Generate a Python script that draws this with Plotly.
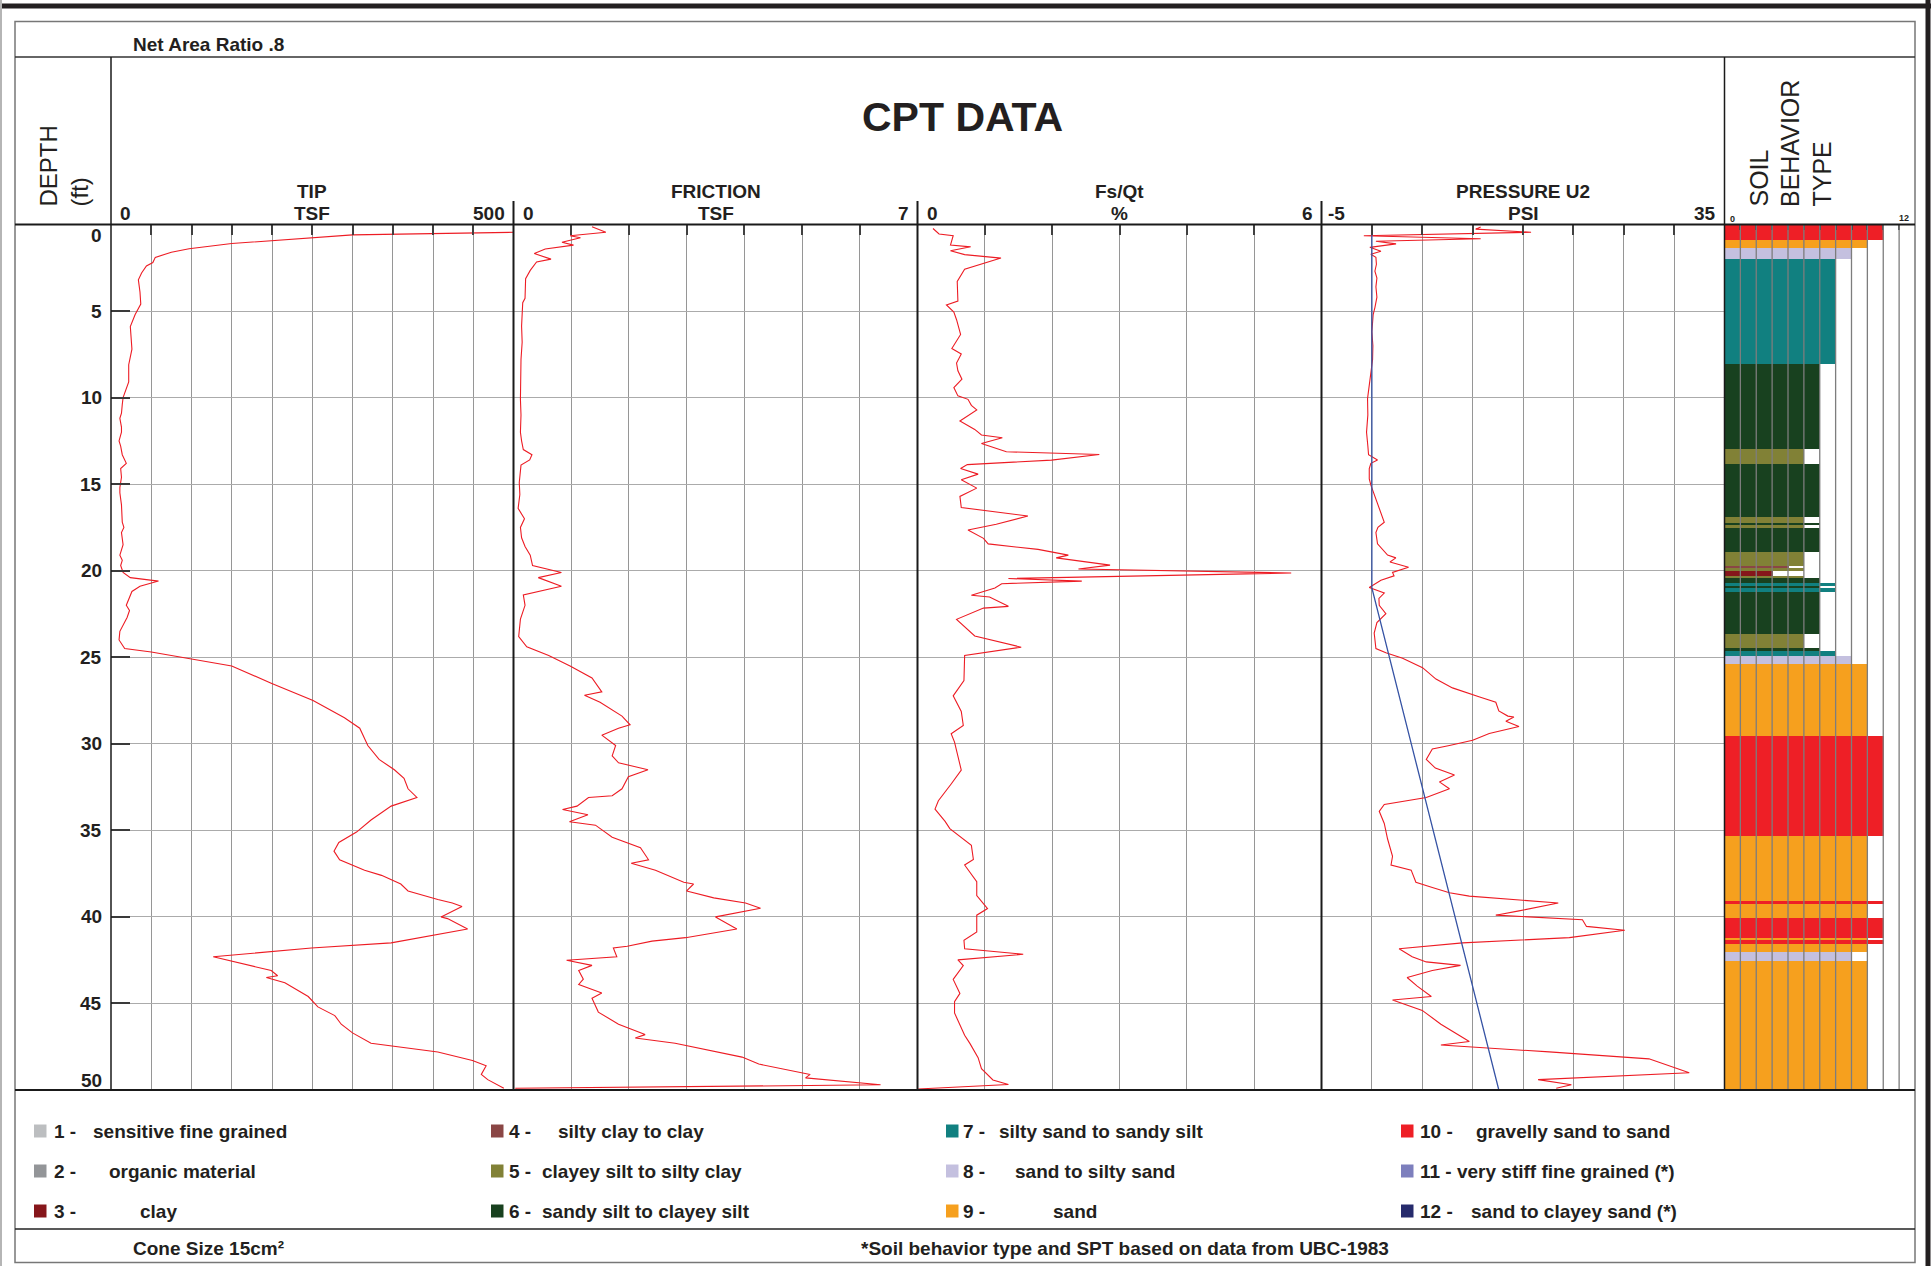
import plotly.graph_objects as go

# ---------------- data ----------------
# (depth ft, value) pairs for each CPT channel
tip_log = [
    (0.45, 500), (0.6, 300), (1.1, 150), (1.4, 97), (1.6, 75), (1.9, 55), (2.2, 52), (2.4, 44),
    (2.8, 38), (3.2, 34), (3.9, 36), (4.6, 37), (5.2, 30), (5.9, 24), (7.2, 26), (8.1, 22),
    (9.1, 22), (9.7, 17), (10.0, 15), (10.4, 14), (10.9, 13), (11.2, 11), (11.7, 13), (12.0, 13),
    (12.5, 10), (12.8, 12), (13.3, 14), (13.8, 19), (14.1, 12), (14.6, 13), (15.2, 11), (15.5, 11),
    (16.2, 13), (17.2, 14), (17.5, 16), (17.8, 13), (18.5, 15), (19.1, 11), (19.4, 14), (19.7, 12),
    (20.1, 15), (20.4, 24), (20.6, 59), (20.9, 36), (21.2, 26), (22.0, 19), (22.3, 23), (22.7, 20),
    (23.5, 11), (24.0, 10), (24.5, 17), (24.7, 50), (25.1, 100), (25.5, 150), (26.5, 199), (27.5, 251),
    (28.5, 290), (29.1, 309), (30.1, 319), (30.9, 333), (31.5, 352), (32.0, 364), (32.6, 369), (33.1, 380),
    (33.6, 348), (34.4, 323), (35.1, 305), (35.7, 283), (36.2, 277), (36.7, 284), (37.3, 315), (37.6, 336),
    (38.1, 360), (38.5, 369), (39.0, 406), (39.2, 424), (39.4, 436), (40.0, 410), (40.1, 418), (40.7, 443),
    (41.5, 348), (41.8, 249), (42.3, 127), (43.1, 199), (43.4, 207), (43.5, 193), (43.8, 216), (44.6, 245),
    (45.2, 257), (45.7, 278), (46.2, 286), (46.7, 300), (47.3, 323), (47.8, 406), (48.3, 449), (48.6, 466),
    (49.1, 460), (49.4, 468), (49.9, 488),
]

friction_log = [
    (0.13, 1.36), (0.45, 1.60), (0.65, 0.98), (0.77, 1.16), (1.03, 0.84), (1.19, 1.04), (1.42, 0.55),
    (1.68, 0.36), (2.0, 0.65), (2.16, 0.40), (2.65, 0.29), (3.13, 0.21), (4.26, 0.20), (4.52, 0.16),
    (5.87, 0.14), (6.8, 0.15), (7.8, 0.13), (9.0, 0.12), (10.1, 0.12), (11.0, 0.13), (12.0, 0.12),
    (12.5, 0.14), (13.0, 0.17), (13.3, 0.32), (13.6, 0.28), (13.9, 0.13), (14.9, 0.10), (15.6, 0.11),
    (16.4, 0.08), (17.0, 0.19), (17.5, 0.12), (18.1, 0.14), (18.6, 0.20), (19.1, 0.29), (19.7, 0.33),
    (20.1, 0.83), (20.4, 0.43), (20.9, 0.83), (21.4, 0.17), (22.0, 0.20), (22.8, 0.12), (23.8, 0.09),
    (24.4, 0.23), (24.9, 0.61), (25.5, 0.98), (26.2, 1.36), (27.0, 1.53), (27.2, 1.23), (27.6, 1.50),
    (28.4, 1.88), (28.9, 2.02), (29.1, 1.82), (29.5, 1.53), (30.1, 1.77), (30.7, 1.71), (31.1, 1.82),
    (31.5, 2.33), (31.9, 1.99), (32.6, 1.88), (33.0, 1.71), (33.1, 1.30), (33.6, 1.10), (33.8, 0.85),
    (34.1, 1.29), (34.5, 0.97), (34.7, 1.42), (35.4, 1.71), (36.0, 2.20), (36.7, 2.34), (36.9, 2.04),
    (37.3, 2.46), (38.0, 2.95), (38.1, 3.12), (38.5, 3.00), (38.9, 3.47), (39.2, 4.02), (39.5, 4.28),
    (40.0, 3.50), (40.7, 3.87), (41.2, 2.98), (41.4, 2.40), (41.7, 1.97), (41.8, 1.73), (42.3, 1.79),
    (42.5, 0.92), (42.8, 1.36), (43.1, 1.13), (43.6, 1.21), (43.9, 1.13), (44.4, 1.53), (44.7, 1.36),
    (45.5, 1.47), (46.2, 1.82), (46.8, 2.28), (47.0, 2.11), (47.3, 2.80), (48.1, 3.96), (48.5, 4.25),
    (49.0, 5.00), (49.1, 5.14), (49.3, 5.06), (49.7, 6.36), (49.9, 0.03),
]

ratio_log = [
    (0.23, 0.23), (0.55, 0.32), (0.65, 0.53), (1.19, 0.49), (1.29, 0.79), (1.52, 0.49), (1.74, 0.70),
    (1.94, 1.24), (2.58, 0.70), (3.29, 0.59), (4.42, 0.60), (4.65, 0.43), (5.06, 0.54), (5.5, 0.58),
    (6.35, 0.64), (7.16, 0.51), (7.48, 0.65), (8.0, 0.58), (8.45, 0.60), (8.94, 0.66), (9.42, 0.54),
    (9.9, 0.60), (10.1, 0.75), (10.45, 0.80), (10.71, 0.88), (11.35, 0.63), (11.84, 0.85), (12.16, 0.95),
    (12.32, 1.26), (12.65, 0.95), (13.13, 1.32), (13.29, 2.70), (13.61, 1.99), (13.87, 0.74), (14.1, 0.64),
    (14.42, 0.90), (14.74, 0.65), (15.23, 0.88), (15.71, 0.63), (16.35, 0.65), (16.84, 1.64), (17.32, 1.17),
    (17.65, 0.75), (18.13, 0.98), (18.45, 1.05), (18.77, 1.79), (19.1, 2.24), (19.26, 2.06), (19.68, 2.86),
    (19.9, 2.39), (20.13, 5.55), (20.45, 1.35), (20.6, 2.44), (20.75, 1.25), (21.0, 1.15), (21.42, 0.80),
    (21.52, 1.07), (22.06, 1.35), (22.16, 0.98), (22.81, 0.58), (23.77, 0.85), (24.42, 1.54), (24.9, 0.70),
    (26.35, 0.69), (27.23, 0.53), (28.13, 0.65), (28.94, 0.68), (29.42, 0.50), (29.9, 0.55), (30.7, 0.60),
    (31.52, 0.65), (32.32, 0.50), (33.29, 0.31), (33.77, 0.26), (34.48, 0.41), (34.9, 0.48), (35.87, 0.80),
    (36.68, 0.83), (37.0, 0.70), (37.97, 0.88), (38.77, 0.88), (39.52, 1.04), (39.9, 0.88), (40.87, 0.88),
    (41.35, 0.69), (41.84, 0.70), (42.16, 1.57), (42.48, 0.60), (42.81, 0.68), (43.61, 0.53), (44.42, 0.63),
    (44.9, 0.55), (45.55, 0.55), (46.84, 0.70), (47.32, 0.78), (48.13, 0.90), (48.77, 0.95), (49.42, 1.12),
    (49.68, 1.35), (49.94, 0.01),
]

pressure_log = [
    (0.15, 10.8), (0.27, 10.3), (0.45, 15.8), (0.65, -0.8), (0.82, 10.8), (0.97, 0.4), (1.12, 2.4),
    (1.32, -0.2), (1.55, 0.9), (1.72, -0.1), (1.9, 0.4), (2.3, 0.45), (2.7, 0.3), (3.1, 0.5), (3.6, 0.4),
    (4.2, 0.5), (4.8, 0.3), (5.2, 0.13), (6.2, 0.0), (7.0, 0.1), (7.8, 0.07), (8.5, -0.1), (9.1, -0.2),
    (10.06, -0.43), (11.0, -0.4), (12.0, -0.53), (12.8, -0.4), (13.3, -0.33), (13.6, 0.56), (13.8, -0.1),
    (14.1, -0.26), (14.7, -0.26), (15.06, -0.1), (15.87, 0.4), (16.3, 0.6), (17.2, 1.23), (17.5, 0.6),
    (17.8, 0.4), (18.45, 0.56), (19.1, 1.56), (19.26, 2.38), (19.5, 1.8), (19.8, 3.64), (20.1, 2.05),
    (20.3, 2.2), (20.55, 0.9), (20.97, -0.26), (21.29, 1.23), (21.6, 0.7), (22.0, 0.73), (22.48, 1.39),
    (23.0, 0.5), (23.6, 0.23), (24.5, 0.4), (24.74, 1.39), (25.06, 3.05), (25.6, 5.03), (26.26, 6.36),
    (26.77, 8.0), (27.1, 9.83), (27.3, 10.7), (27.6, 12.3), (28.1, 12.6), (28.4, 13.5), (28.45, 14.1),
    (28.7, 13.3), (29.0, 14.6), (29.4, 11.65), (29.8, 10.0), (30.1, 7.7), (30.3, 6.0), (30.9, 5.4),
    (31.4, 6.3), (31.8, 8.2), (32.2, 6.7), (32.6, 7.7), (33.1, 5.4), (33.5, 1.23), (33.9, 0.73),
    (34.6, 1.23), (35.5, 1.56), (36.5, 2.05), (37.0, 1.9), (37.3, 3.9), (38.0, 4.37), (38.3, 6.0),
    (38.6, 7.7), (38.8, 9.67), (39.2, 18.5), (39.65, 14.6), (39.9, 12.3), (40.16, 20.9), (40.55, 21.3),
    (40.77, 25.1), (41.2, 19.6), (41.5, 9.0), (41.84, 2.7), (42.3, 4.0), (42.6, 5.4), (42.8, 8.8),
    (43.1, 6.0), (43.5, 3.5), (44.0, 4.5), (44.6, 5.9), (44.8, 2.05), (45.4, 5.0), (46.2, 6.85),
    (47.2, 9.67), (47.4, 6.85), (47.8, 17.6), (48.2, 27.5), (49.0, 31.5), (49.4, 16.5), (49.7, 19.8),
    (49.9, 18.3),
]

# hydrostatic pore pressure reference (water table near 21 ft)
hydro_depth = [0.0, 21.0, 50.0]
hydro_psi = [0.0, 0.0, 12.6]

# soil behavior type layers: (top ft, bottom ft, zone)
sbt_layers = [
    (0.0, 0.85, 10), (0.85, 1.3, 9), (1.3, 1.95, 8), (1.95, 8.04, 7), (8.04, 12.95, 6),
    (12.95, 13.78, 5), (13.78, 16.86, 6), (16.86, 17.19, 5), (17.19, 17.34, 6), (17.34, 17.53, 5),
    (17.53, 18.89, 6), (18.89, 19.70, 5), (19.70, 19.83, 4), (19.83, 19.98, 5), (19.98, 20.27, 3),
    (20.27, 20.41, 5), (20.41, 20.66, 6), (20.66, 20.85, 7), (20.85, 20.98, 6), (20.98, 21.18, 7),
    (21.18, 23.64, 6), (23.64, 24.42, 5), (24.42, 24.61, 6), (24.61, 24.90, 7), (24.90, 25.38, 8),
    (25.38, 29.52, 9), (29.52, 35.30, 10), (35.30, 39.06, 9), (39.06, 39.25, 10), (39.25, 40.02, 9),
    (40.02, 41.21, 10), (41.21, 41.33, 9), (41.33, 41.53, 10), (41.53, 42.00, 9), (42.00, 42.49, 8),
    (42.49, 50.0, 9),
]

zone_codes = list(range(1, 13))
zone_names = [
    "sensitive fine grained", "organic material", "clay",
    "silty clay to clay", "clayey silt to silty clay", "sandy silt to clayey silt",
    "silty sand to sandy silt", "sand to silty sand", "sand",
    "gravelly sand to sand", "very stiff fine grained (*)", "sand to clayey sand (*)",
]
zone_colors = [
    "#BCBEC0", "#939598", "#86161B", "#8A4645", "#818136", "#18411F",
    "#118080", "#C4C0DF", "#F6A01E", "#EE1F26", "#7D7FBD", "#262B6C",
]

depth_ticks = list(range(0, 55, 5))

# ---------------- page geometry (pixels) ----------------
W, H = 1931, 1266
FONT = "Liberation Sans, Arial, Helvetica, sans-serif"
INK = "#231F20"
RED = "#ED1C24"

PLOT_TOP, PLOT_BOT = 224.5, 1090.0
EDGES = [111.0, 513.5, 917.5, 1321.5, 1724.5, 1915.0]
FRAME_L, FRAME_R, FRAME_T, FRAME_B = 15.0, 1915.0, 21.5, 1262.5


def fx(p):
    return p / W


def fy(p):
    return 1.0 - p / H


ydom = [fy(PLOT_BOT), fy(PLOT_TOP)]

panels = [
    # title line 1, title line 2, x range, grid step, low label, high label
    ("TIP", "TSF", [0, 500], 50, "0", "500"),
    ("FRICTION", "TSF", [0, 7], 1, "0", "7"),
    ("Fs/Qt", "%", [0, 6], 1, "0", "6"),
    ("PRESSURE U2", "PSI", [-5, 35], 5, "-5", "35"),
]

fig = go.Figure()

logs = [tip_log, friction_log, ratio_log, pressure_log]
for i, log in enumerate(logs):
    n = "" if i == 0 else str(i + 1)
    fig.add_trace(go.Scatter(
        x=[v for _, v in log], y=[d for d, _ in log], mode="lines",
        line=dict(color=RED, width=1.1), xaxis="x" + n, yaxis="y" + n,
        hoverinfo="skip", showlegend=False,
    ))

fig.add_trace(go.Scatter(
    x=hydro_psi, y=hydro_depth, mode="lines", line=dict(color="#3653A4", width=1.3),
    xaxis="x4", yaxis="y4", hoverinfo="skip", showlegend=False,
))

# soil behavior type column as horizontal bars
fig.add_trace(go.Bar(
    orientation="h",
    y=[(t + b) / 2 for t, b, _ in sbt_layers],
    width=[b - t for t, b, _ in sbt_layers],
    x=[z for _, _, z in sbt_layers],
    base=0,
    marker=dict(color=[zone_colors[z - 1] for _, _, z in sbt_layers], line=dict(width=0)),
    xaxis="x5", yaxis="y5", hoverinfo="skip", showlegend=False,
))

layout = dict(
    width=W, height=H, margin=dict(l=0, r=0, t=0, b=0),
    paper_bgcolor="white", plot_bgcolor="white", showlegend=False, bargap=0,
)

xbase = dict(showticklabels=False, zeroline=False, side="top", ticks="inside", ticklen=10,
             tickwidth=1.5, tickcolor="#404040", showgrid=True, gridcolor="#969696",
             gridwidth=1.2, showline=False, fixedrange=True)
ybase = dict(range=[50, 0], autorange=False, showticklabels=False, zeroline=False, dtick=5,
             tick0=0, showgrid=True, gridcolor="#ababab", gridwidth=1.4, showline=False,
             fixedrange=True, domain=ydom)

for i, (t1, t2, rng, step, lo, hi) in enumerate(panels):
    n = "" if i == 0 else str(i + 1)
    layout["xaxis" + n] = dict(xbase, domain=[fx(EDGES[i]), fx(EDGES[i + 1])], range=rng,
                               dtick=step, tick0=rng[0], anchor="y" + n)
    ya = dict(ybase, anchor="x" + n)
    if i == 0:
        ya.update(ticks="inside", ticklen=19, tickwidth=1.5, tickcolor="#3a3a3a")
    layout["yaxis" + n] = ya

layout["xaxis5"] = dict(xbase, domain=[fx(EDGES[4]), fx(EDGES[5])], range=[0, 12], dtick=1,
                        tick0=0, anchor="y5", showgrid=False, ticklen=5)
layout["yaxis5"] = dict(ybase, anchor="x5", showgrid=False)

shapes = []


def hline(y, x0=FRAME_L, x1=FRAME_R, color="#1a1a1a", width=2):
    shapes.append(dict(type="line", xref="paper", yref="paper", x0=fx(x0), x1=fx(x1),
                       y0=fy(y), y1=fy(y), line=dict(color=color, width=width)))


def vline(x, y0, y1, color="#1a1a1a", width=2):
    shapes.append(dict(type="line", xref="paper", yref="paper", x0=fx(x), x1=fx(x),
                       y0=fy(y0), y1=fy(y1), line=dict(color=color, width=width)))


# SBT grid drawn over the bars
for k in range(1, 12):
    shapes.append(dict(type="line", xref="x5", yref="paper", x0=k, x1=k,
                       y0=ydom[0], y1=ydom[1], line=dict(color="#7d7d7d", width=1.3),
                       layer="above"))

# page frame
hline(6, 0, W, color="#231F20", width=5)
vline(1928, 0, H, color="#231F20", width=5)
vline(1, 0, H, color="#b5b5b5", width=2)
shapes.append(dict(type="rect", xref="paper", yref="paper", x0=fx(FRAME_L), x1=fx(FRAME_R),
                   y0=fy(FRAME_B), y1=fy(FRAME_T), line=dict(color="#777777", width=1.5)))
hline(57, color="#333333", width=1.5)
hline(PLOT_TOP, width=2)
hline(PLOT_BOT, width=2)
hline(1229, color="#222222", width=1.5)
vline(EDGES[0], 57, PLOT_BOT, width=1.5)
vline(EDGES[4], 57, PLOT_BOT, width=1.5)
for x in EDGES[1:4]:
    vline(x, 201, PLOT_BOT, width=2)

ann = []


def label(x, y, s, size=19, xa="left", ya="middle", bold=True, angle=0):
    ann.append(dict(xref="paper", yref="paper", x=fx(x), y=fy(y),
                    text=("<b>%s</b>" % s) if bold else s, showarrow=False,
                    xanchor=xa, yanchor=ya, textangle=angle,
                    font=dict(family=FONT, size=size, color=INK)))


label(131, 44.5, "Net Area Ratio .8")
label(962, 117, "CPT DATA", size=41, xa="center")
label(48, 209, "DEPTH", size=24, xa="center", ya="bottom", bold=False, angle=-90)
label(79, 209, "(ft)", size=24, xa="center", ya="bottom", bold=False, angle=-90)

for i, (t1, t2, rng, step, lo, hi) in enumerate(panels):
    cx = (EDGES[i] + EDGES[i + 1]) / 2
    label(cx, 191.5, t1, xa="center")
    label(cx, 213, t2, xa="center")
    label(EDGES[i] + (4 if lo.startswith("-") else 7), 213, lo)
    label(EDGES[i + 1] - 6.5, 213, hi, xa="right")

for j, w in enumerate(["SOIL", "BEHAVIOR", "TYPE"]):
    label(1758 + j * 31.5, 209, w, size=25, xa="center", ya="bottom", bold=False, angle=-90)
label(1728, 218.5, "0", size=9)
label(1904, 217.5, "12", size=9, xa="center")

# depth scale labels
for d in depth_ticks:
    shift = -11 if d == 0 else (10 if d == 50 else 0)
    ann.append(dict(xref="paper", yref="y", x=fx(104), y=d, yshift=shift,
                    text="<b>%d</b>" % d, showarrow=False, xanchor="right", yanchor="middle",
                    font=dict(family=FONT, size=19, color=INK)))

# soil behavior type key
KEY_SIZE = 19
swatch_x = [34.0, 491.0, 946.0, 1401.0]
num_x = [52.0, 507.0, 961.0, 1418.0]
desc_x = [91, 107, 138, 556, 540, 540, 997, 1013, 1051, 1474, None, 1469]
row_y = [1131, 1171, 1211]
for i, code in enumerate(zone_codes):
    c, r = i // 3, i % 3
    y = row_y[r]
    shapes.append(dict(type="rect", xref="paper", yref="paper",
                       x0=fx(swatch_x[c]), x1=fx(swatch_x[c] + 12.5),
                       y0=fy(y + 6.5), y1=fy(y - 6.5),
                       fillcolor=zone_colors[i], line=dict(width=0)))
    if desc_x[i] is None:
        label(num_x[c], y, "%d - %s" % (code, zone_names[i]), size=KEY_SIZE)
    else:
        label(num_x[c], y, "%d -" % code, size=KEY_SIZE)
        label(desc_x[i], y, zone_names[i], size=KEY_SIZE)

label(131, 1248, "Cone Size 15cm\u00b2", size=KEY_SIZE)
label(1125, 1248, "*Soil behavior type and SPT based on data from UBC-1983", size=KEY_SIZE, xa="center")

layout["shapes"] = shapes
layout["annotations"] = ann
fig.update_layout(**layout)

fig.write_html("out.html")
